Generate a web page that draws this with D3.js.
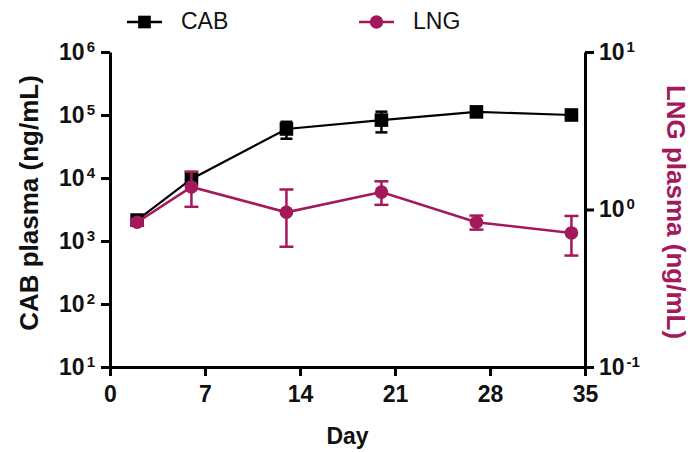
<!DOCTYPE html>
<html>
<head>
<meta charset="utf-8">
<script src="https://cdn.jsdelivr.net/npm/d3@7"></script>
<style>
  body { margin: 0; background: #fff; }
  svg text { font-family: "Liberation Sans", Arial, sans-serif; }
  .axis path, .axis line { stroke: #000; stroke-width: 3px; }
  .axis text { font-size: 23px; font-weight: bold; fill: #111; }
</style>
</head>
<body>
<script>
// data
var days = [2, 6, 13, 20, 27, 34];
var cabMean = [2150, 9650, 60000, 83000, 112000, 100000];
var cabSD = [300, 1500, 18000, 30000, 8000, 8000];
var lngMean = [0.83, 1.39, 0.96, 1.29, 0.83, 0.71];
var lngSD = [0.04, 0.35, 0.38, 0.22, 0.085, 0.2];
var xTicks = [0, 7, 14, 21, 28, 35];
var cabTicks = [1e1, 1e2, 1e3, 1e4, 1e5, 1e6];
var lngTicks = [1e-1, 1e0, 1e1];

var lngColor = "#a3195b";

var width = 690, height = 452;
var plot = {left: 110, right: 585, top: 52, bottom: 367};

var svg = d3.select("body").append("svg")
    .attr("width", width)
    .attr("height", height);

var x = d3.scaleLinear().domain([0, 35]).range([plot.left, plot.right]);
var yL = d3.scaleLog().domain([10, 1e6]).range([plot.bottom, plot.top]);
var yR = d3.scaleLog().domain([0.1, 10]).range([plot.bottom, plot.top]);

// superscript tick labels like 10^3
function powLabel(sel) {
  sel.selectAll(".tick text").each(function(d) {
    var t = d3.select(this).text("");
    t.append("tspan").text("10");
    t.append("tspan")
        .attr("dx", "2")
        .attr("dy", "-0.55em")
        .style("font-size", "15px")
        .text(Math.round(Math.log10(d)));
  });
}

svg.append("g")
    .attr("class", "axis")
    .attr("transform", "translate(0," + plot.bottom + ")")
    .call(d3.axisBottom(x).tickValues(xTicks).tickSize(9).tickSizeOuter(0).tickPadding(5))
  .selectAll(".tick text")
    .attr("dy", "0.9em");

svg.append("g")
    .attr("class", "axis")
    .attr("transform", "translate(" + plot.left + ",0)")
    .call(d3.axisLeft(yL).tickValues(cabTicks).tickSize(9).tickSizeOuter(0).tickPadding(6))
    .call(powLabel);

svg.append("g")
    .attr("class", "axis")
    .attr("transform", "translate(" + plot.right + ",0)")
    .call(d3.axisRight(yR).tickValues(lngTicks).tickSize(9).tickSizeOuter(0).tickPadding(5))
    .call(powLabel);

// axis titles
svg.append("text")
    .attr("transform", "translate(38,203) rotate(-90)")
    .attr("text-anchor", "middle")
    .style("font-size", "26px")
    .style("font-weight", "bold")
    .attr("fill", "#111")
    .text("CAB plasma (ng/mL)");

svg.append("text")
    .attr("transform", "translate(667,212) rotate(90)")
    .attr("text-anchor", "middle")
    .style("font-size", "26px")
    .style("font-weight", "bold")
    .attr("fill", lngColor)
    .text("LNG plasma (ng/mL)");

svg.append("text")
    .attr("x", (plot.left + plot.right) / 2)
    .attr("y", 444)
    .attr("text-anchor", "middle")
    .style("font-size", "23px")
    .style("font-weight", "bold")
    .attr("fill", "#111")
    .text("Day");

function drawSeries(mean, sd, y, color, shape, lw, cap) {
  var g = svg.append("g");
  var pts = days.map(function(d, i) { return {d: d, m: mean[i], s: sd[i]}; });

  g.append("path")
      .datum(pts)
      .attr("fill", "none")
      .attr("stroke", color)
      .attr("stroke-width", lw)
      .attr("d", d3.line().x(function(p) { return x(p.d); }).y(function(p) { return y(p.m); }));

  var eb = g.selectAll(".eb").data(pts).enter().append("g").attr("stroke", color).attr("stroke-width", 2.5);
  eb.append("line")
      .attr("x1", function(p) { return x(p.d); })
      .attr("x2", function(p) { return x(p.d); })
      .attr("y1", function(p) { return y(p.m + p.s); })
      .attr("y2", function(p) { return y(p.m - p.s); });
  eb.append("line")
      .attr("x1", function(p) { return x(p.d) - cap; })
      .attr("x2", function(p) { return x(p.d) + cap; })
      .attr("y1", function(p) { return y(p.m + p.s); })
      .attr("y2", function(p) { return y(p.m + p.s); });
  eb.append("line")
      .attr("x1", function(p) { return x(p.d) - cap; })
      .attr("x2", function(p) { return x(p.d) + cap; })
      .attr("y1", function(p) { return y(p.m - p.s); })
      .attr("y2", function(p) { return y(p.m - p.s); });

  g.selectAll(".mk").data(pts).enter().append("path")
      .attr("transform", function(p) { return "translate(" + x(p.d) + "," + y(p.m) + ")"; })
      .attr("d", d3.symbol().type(shape).size(shape === d3.symbolSquare ? 185 : 145))
      .attr("fill", color);
}

drawSeries(cabMean, cabSD, yL, "#000", d3.symbolSquare, 2.2, 6);
drawSeries(lngMean, lngSD, yR, lngColor, d3.symbolCircle, 2.6, 7);

// legend
var legend = [
  {name: "CAB", color: "#000", shape: d3.symbolSquare, x0: 127},
  {name: "LNG", color: lngColor, shape: d3.symbolCircle, x0: 359}
];
var lg = svg.selectAll(".legend").data(legend).enter().append("g")
    .attr("transform", function(d) { return "translate(" + d.x0 + ",22)"; });
lg.append("line")
    .attr("x1", 0).attr("x2", 35)
    .attr("stroke", function(d) { return d.color; })
    .attr("stroke-width", 2.6);
lg.append("path")
    .attr("transform", "translate(17.5,0)")
    .attr("d", function(d) { return d3.symbol().type(d.shape).size(d.shape === d3.symbolSquare ? 160 : 140)(); })
    .attr("fill", function(d) { return d.color; });
lg.append("text")
    .attr("x", 54)
    .attr("y", 7)
    .style("font-size", "23px")
    .attr("fill", "#111")
    .text(function(d) { return d.name; });
</script>
</body>
</html>
